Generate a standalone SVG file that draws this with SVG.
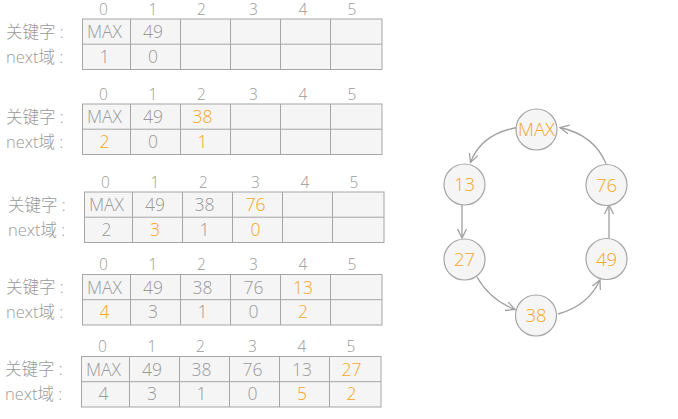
<svg xmlns="http://www.w3.org/2000/svg" width="678" height="419" viewBox="0 0 678 419">
<style>
text{font-family:"Open Sans","Noto Sans CJK SC",sans-serif;font-weight:300;}
.cell{fill:#f5f5f5;stroke:#a6a6a6;stroke-width:1;}
.idx{font-size:15.5px;fill:#9a9a9a;text-anchor:middle;}
.v{font-size:17.5px;fill:#999;text-anchor:middle;}
.o{fill:#f5a623;}
.lab{font-size:16.5px;fill:#9a9a9a;}
.node{fill:#f5f5f5;stroke:#a6a6a6;stroke-width:1.2;}
.nt{font-size:18.5px;fill:#f5a623;text-anchor:middle;}
.conn{fill:none;stroke:#a0a0a0;stroke-width:1.3;marker-end:url(#arr);}
</style>
<defs>
<marker id="arr" markerUnits="userSpaceOnUse" markerWidth="12" markerHeight="12" refX="9" refY="5" orient="auto" viewBox="0 0 12 10">
<path d="M0,0.5 L9,5 L0,9.5" fill="none" stroke="#a0a0a0" stroke-width="1.3"/>
</marker>
<g id="grid">
<rect class="cell" x="0" y="0" width="299.5" height="50.5"/>
<path d="M0,25.2H299.5M48,0V50.5M98,0V50.5M148,0V50.5M198,0V50.5M248,0V50.5" stroke="#a6a6a6" stroke-width="1" fill="none"/>
</g>
<g id="heads">
<text class="idx" x="21" y="-4.5">0</text>
<text class="idx" x="70.5" y="-4.5">1</text>
<text class="idx" x="119" y="-4.5">2</text>
<text class="idx" x="171" y="-4.5">3</text>
<text class="idx" x="220.5" y="-4.5">4</text>
<text class="idx" x="269.5" y="-4.5">5</text>
<text class="lab" x="-76.5" y="18.5">关键字 :</text>
<text class="lab" x="-76.5" y="43.5">next域 :</text>
</g>
</defs>

<g id="table1" transform="translate(82.5,19)">
<use href="#grid"/><use href="#heads"/>
<text class="v" x="22" y="19">MAX</text>
<text class="v" x="70.5" y="19">49</text>
<text class="v" x="22" y="43.5">1</text>
<text class="v" x="70.5" y="43.5">0</text>
</g>

<g id="table2" transform="translate(82.5,104)">
<use href="#grid"/><use href="#heads"/>
<text class="v" x="22" y="19">MAX</text>
<text class="v" x="70.5" y="19">49</text>
<text class="v o" x="120" y="19">38</text>
<text class="v o" x="22" y="43.5">2</text>
<text class="v" x="70.5" y="43.5">0</text>
<text class="v o" x="120" y="43.5">1</text>
</g>

<g id="table3" transform="translate(84.5,192)">
<use href="#grid"/><use href="#heads"/>
<text class="v" x="22" y="19">MAX</text>
<text class="v" x="70.5" y="19">49</text>
<text class="v" x="120" y="19">38</text>
<text class="v o" x="171" y="19">76</text>
<text class="v" x="22" y="43.5">2</text>
<text class="v o" x="70.5" y="43.5">3</text>
<text class="v" x="120" y="43.5">1</text>
<text class="v o" x="171" y="43.5">0</text>
</g>

<g id="table4" transform="translate(82.5,274.5)">
<use href="#grid"/><use href="#heads"/>
<text class="v" x="22" y="19">MAX</text>
<text class="v" x="70.5" y="19">49</text>
<text class="v" x="120" y="19">38</text>
<text class="v" x="171" y="19">76</text>
<text class="v o" x="220.5" y="19">13</text>
<text class="v o" x="22" y="43.5">4</text>
<text class="v" x="70.5" y="43.5">3</text>
<text class="v" x="120" y="43.5">1</text>
<text class="v" x="171" y="43.5">0</text>
<text class="v o" x="220.5" y="43.5">2</text>
</g>

<g id="table5" transform="translate(81.5,356.5)">
<use href="#grid"/><use href="#heads"/>
<text class="v" x="22" y="19">MAX</text>
<text class="v" x="70.5" y="19">49</text>
<text class="v" x="120" y="19">38</text>
<text class="v" x="171" y="19">76</text>
<text class="v" x="220.5" y="19">13</text>
<text class="v o" x="270" y="19">27</text>
<text class="v" x="22" y="43.5">4</text>
<text class="v" x="70.5" y="43.5">3</text>
<text class="v" x="120" y="43.5">1</text>
<text class="v" x="171" y="43.5">0</text>
<text class="v o" x="220.5" y="43.5">5</text>
<text class="v o" x="270" y="43.5">2</text>
</g>

<g id="connectors">
<path class="conn" d="M517,127.5 Q481,134 470.5,162.5"/>
<path class="conn" d="M462,205 L462,238"/>
<path class="conn" d="M477,277 Q490,300 515,309.5"/>
<path class="conn" d="M558,314 Q588,306 600,280"/>
<path class="conn" d="M609,238.5 L609,205"/>
<path class="conn" d="M606,163.5 Q594,135 560,127.5"/>
</g>

<g id="nMAX"><circle class="node" cx="536.5" cy="129.5" r="20.5"/><text class="nt" x="536.5" y="136">MAX</text></g>
<g id="n13"><circle class="node" cx="464.5" cy="184.5" r="20.5"/><text class="nt" x="464.5" y="191">13</text></g>
<g id="n76"><circle class="node" cx="606.5" cy="185" r="20.5"/><text class="nt" x="606.5" y="191.5">76</text></g>
<g id="n27"><circle class="node" cx="464.5" cy="259.5" r="20.5"/><text class="nt" x="464.5" y="266">27</text></g>
<g id="n49"><circle class="node" cx="606.5" cy="259" r="20.5"/><text class="nt" x="606.5" y="265.5">49</text></g>
<g id="n38"><circle class="node" cx="536" cy="315.5" r="20.5"/><text class="nt" x="536" y="322">38</text></g>
</svg>
